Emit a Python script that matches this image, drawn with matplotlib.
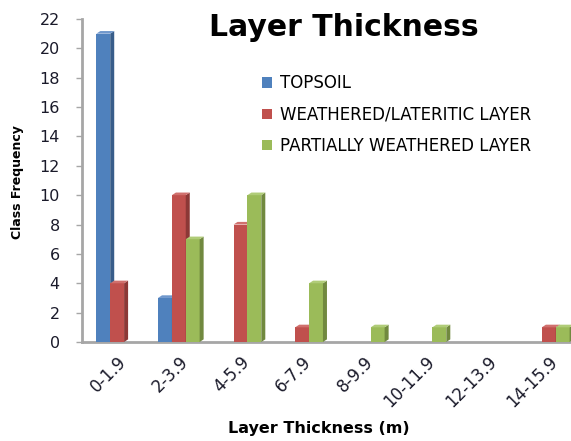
import matplotlib
matplotlib.use("Agg")
import matplotlib.pyplot as plt
from matplotlib.patches import Polygon, Patch
from matplotlib.transforms import IdentityTransform
import numpy as np

categories = ["0-1.9", "2-3.9", "4-5.9", "6-7.9", "8-9.9", "10-11.9", "12-13.9", "14-15.9"]
topsoil = [21, 3, 0, 0, 0, 0, 0, 0]
weathered = [4, 10, 8, 1, 0, 0, 0, 1]
partially = [0, 7, 10, 4, 1, 1, 0, 1]
series_names = ["TOPSOIL", "WEATHERED/LATERITIC LAYER", "PARTIALLY WEATHERED LAYER"]
y_ticks = list(range(0, 23, 2))

front = ["#4F81BD", "#C0504D", "#9BBB59"]
side = ["#385D8A", "#8C3836", "#71893F"]
top = ["#6F97CC", "#D0706D", "#B0CC78"]

plt.rcParams["font.family"] = ["DejaVu Sans"]

fig = plt.figure(figsize=(5.71, 4.41), dpi=100)
ax = fig.add_axes([82 / 571, 1 - 342 / 441, (571 - 82) / 571, (342 - 19) / 441])

x = np.arange(len(categories))
w = 0.225
dx, dy = 0.065, 0.18  # depth of the pseudo-3D faces in data units
offsets = [-w, 0.0, w]
for s, vals in enumerate([topsoil, weathered, partially]):
    xs = x + offsets[s]
    ax.bar(xs, vals, width=w, color=front[s], edgecolor="none", zorder=3)
    for xi, v in zip(xs, vals):
        if v <= 0:
            continue
        r = xi + w / 2
        l = xi - w / 2
        ax.add_patch(Polygon([(r, 0), (r, v), (r + dx, v + dy), (r + dx, dy)],
                             closed=True, facecolor=side[s], edgecolor="none", zorder=3))
        ax.add_patch(Polygon([(l, v), (r, v), (r + dx, v + dy), (l + dx, v + dy)],
                             closed=True, facecolor=top[s], edgecolor="none", zorder=3))

ax.set_xlim(-0.57, 7.36)
ax.set_ylim(0, 22)
ax.set_yticks(y_ticks)
ax.set_xticks(x)
ax.set_xticklabels(categories, rotation=45, ha="right", va="top", rotation_mode="anchor")

for sp in ["top", "right"]:
    ax.spines[sp].set_visible(False)
for sp in ["left", "bottom"]:
    ax.spines[sp].set_color("#a6a6a6")
    ax.spines[sp].set_linewidth(2)
ax.tick_params(axis="y", length=4, width=1, color="#a6a6a6", labelsize=11.5,
               labelcolor="#1a1a2a", pad=12)
ax.tick_params(axis="x", length=0, labelsize=12, labelcolor="#1a1a2a", pad=8)

ax.set_ylabel("Class Frequency", fontsize=9, fontweight="bold", va="center")
ax.yaxis.set_label_coords(18, 441 - 182, transform=IdentityTransform())
ax.set_xlabel("Layer Thickness (m)", fontsize=11.5, fontweight="bold", va="center")
ax.xaxis.set_label_coords(319, 441 - 428, transform=IdentityTransform())

fig.text(344 / 571, 1 - 27 / 441, "Layer Thickness", fontsize=21.5, fontweight="bold",
         ha="center", va="center")

handles = [Patch(facecolor=c, edgecolor="none") for c in front]
ax.legend(handles, series_names, loc="upper left", bbox_to_anchor=(254 / 571, 1 - 66 / 441),
          bbox_transform=fig.transFigure, frameon=False, fontsize=12,
          handlelength=0.6, handleheight=0.6, handletextpad=0.45, labelspacing=0.8,
          borderpad=0)

fig.savefig("out.png", dpi=100)
